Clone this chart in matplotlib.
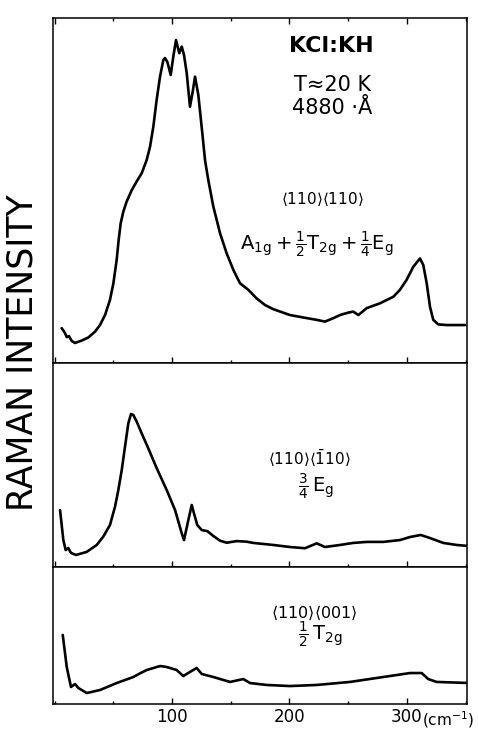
# Raman spectra of KCl:KH in three polarization geometries

import matplotlib
matplotlib.use('Agg')
import matplotlib.pyplot as plt
from matplotlib.ticker import MultipleLocator

# <110><110> : A1g + 1/2 T2g + 1/4 Eg
shift_top = [6.1, 8.9, 10.4, 12.3, 14.6, 17.4, 23.1, 28.8, 34.5, 38.7, 43.0, 47.2,
             50.1, 52.9, 54.6, 56.3, 58.6, 61.4, 65.7, 69.9, 74.2, 78.4, 81.3,
             84.1, 86.9, 89.8, 92.6, 94.0, 96.0, 98.9, 101.1, 103.4, 106.2, 108.3,
             110.2, 112.5, 115.3, 117.6, 119.6, 122.4, 125.8, 128.1, 130.9, 135.2,
             140.9, 146.5, 152.2, 157.9, 165.0, 172.1, 179.2, 186.2, 200.4, 214.9,
             223.2, 230.2, 237.3, 243.0, 250.0, 254.3, 258.6, 265.7, 277.0, 288.4,
             294.0, 299.7, 305.4, 311.1, 313.9, 316.8, 319.6, 322.4, 326.6, 333.8,
             349.4]
inten_top = [10.1, 8.7, 7.5, 7.8, 6.4, 5.8, 6.5, 7.4, 9.1, 11.0, 13.9, 18.3,
             23.1, 29.9, 35.7, 40.5, 43.9, 46.8, 50.1, 52.6, 55.0, 58.8, 62.7,
             68.5, 76.2, 83.0, 87.8, 88.4, 87.3, 83.5, 88.8, 93.6, 89.8, 91.7,
             89.3, 84.1, 74.3, 78.6, 83.0, 77.7, 66.6, 58.8, 53.0, 45.3,
             37.6, 31.8, 27.0, 23.1, 21.2, 18.7, 16.8, 15.6, 13.9, 13.0,
             12.5, 12.0, 13.0, 13.9, 14.6, 14.9, 13.9, 15.9, 17.3, 19.2,
             21.2, 24.1, 27.9, 30.3, 28.4, 23.1, 16.3, 12.5, 11.2, 11.0,
             11.0]

# <110><-110> : 3/4 Eg
shift_mid = [4.7, 7.5, 9.5, 11.7, 14.0, 18.3, 27.4, 35.9, 41.5, 47.2, 51.5, 54.3,
             57.2, 60.0, 62.8, 65.1, 67.1, 70.0, 74.2, 79.8, 87.0, 95.5, 102.6,
             108.3, 110.2, 113.9, 116.8, 118.7, 121.5, 125.3, 130.0, 135.2, 140.9,
             146.5, 155.1, 163.6, 169.2, 186.2, 200.4, 213.2, 223.2, 230.2, 243.0,
             254.3, 265.7, 279.8, 294.0, 302.6, 311.7, 319.6, 330.9, 342.3, 352.2]
inten_mid = [27.9, 13.2, 8.3, 9.3, 6.9, 5.9, 7.4, 10.8, 14.9, 20.6, 29.6, 37.7,
             47.5, 59.0, 70.4, 75.0, 74.5, 71.2, 65.5, 58.2, 48.4, 37.7, 27.9,
             16.5, 13.2, 23.0, 30.4, 26.3, 20.6, 18.1, 17.6, 15.2, 12.9,
             11.9, 12.7, 12.4, 11.8, 10.8, 9.8, 9.2, 11.6, 9.8, 10.8,
             11.8, 12.3, 12.3, 13.2, 14.7, 15.7, 14.2, 11.8, 10.8, 10.3]

# <110><001> : 1/2 T2g
shift_bot = [7.0, 10.4, 14.0, 17.4, 20.3, 27.4, 38.7, 52.9, 67.1, 72.8, 78.5, 87.0,
             90.0, 95.5, 104.0, 109.6, 115.3, 121.0, 125.3, 135.2, 149.4, 160.7,
             166.4, 180.6, 200.4, 223.2, 251.5, 279.8, 302.6, 312.5, 318.1, 325.3,
             353.6]
inten_bot = [50.4, 27.0, 12.4, 14.6, 11.7, 8.0, 10.2, 15.3, 19.7, 22.4, 24.8, 27.0,
             27.7, 27.0, 24.8, 20.4, 23.4, 26.3, 21.9, 19.7, 16.1, 18.2,
             15.3, 13.9, 13.1, 13.9, 16.1, 19.7, 22.6, 22.6, 18.2, 16.1,
             15.3]

tick_labels = ['100', '200', '300']

W, H = 478, 731
fig = plt.figure(figsize=(W / 100, H / 100), dpi=100, facecolor='w')

def rect(left, top, right, bottom):
    # pixel box -> figure fraction
    return [left / W, 1 - bottom / H, (right - left) / W, (bottom - top) / H]

ax1 = fig.add_axes(rect(53, 18, 467, 363))
ax2 = fig.add_axes(rect(53, 363, 467, 567))
ax3 = fig.add_axes(rect(53, 567, 467, 704))

for ax, x, y in ((ax1, shift_top, inten_top),
                 (ax2, shift_mid, inten_mid),
                 (ax3, shift_bot, inten_bot)):
    ax.plot(x, y, color='k', lw=1.9, solid_joinstyle='round', solid_capstyle='round')
    ax.set_xlim(-1.3, 351.1)
    ax.set_ylim(0, 100)
    ax.set_yticks([])
    ax.xaxis.set_major_locator(MultipleLocator(100))
    ax.xaxis.set_minor_locator(MultipleLocator(50))
    ax.tick_params(axis='x', which='major', direction='in', length=4.5, width=1)
    ax.tick_params(axis='x', which='minor', direction='in', length=2.5, width=1)
    ax.tick_params(axis='x', labelbottom=False)
    for s in ax.spines.values():
        s.set_linewidth(1.1)

ax1.tick_params(axis='x', which='both', top=True)

ax3.tick_params(axis='x', labelbottom=True, labelsize=12, pad=3)
ax3.set_xticks([100, 200, 300])
ax3.set_xticklabels(tick_labels)
ax3.annotate('(cm$^{-1}$)', xy=(300, 0), xycoords=('data', 'axes fraction'),
             xytext=(10.5, -3.8), textcoords='offset points',
             ha='left', va='top', fontsize=11)

def label(px, py, s, size, **kw):
    fig.text(px / W, 1 - py / H, s, fontsize=size, ha='center', va='center', **kw)

label(23, 353, 'RAMAN INTENSITY', 25, rotation=90)

label(331, 46, 'KCl:KH', 16, fontweight='bold')
label(333, 85, 'T≈20 K', 15)
label(332, 108, '4880 ·Å', 15)
label(322, 199, r'$\langle 110\rangle\langle 110\rangle$', 11)
label(317, 245, r'$\mathrm{A_{1g}}+\frac{1}{2}\mathrm{T_{2g}}+\frac{1}{4}\mathrm{E_g}$', 14)

label(309, 458, r'$\langle 110\rangle\langle \bar{1}10\rangle$', 11)
label(316, 487, r'$\frac{3}{4}\,\mathrm{E_g}$', 14)

label(314, 613, r'$\langle 110\rangle\langle 001\rangle$', 11.5)
label(320, 635, r'$\frac{1}{2}\,\mathrm{T_{2g}}$', 14)

fig.savefig('out.png', dpi=100, facecolor='w')
